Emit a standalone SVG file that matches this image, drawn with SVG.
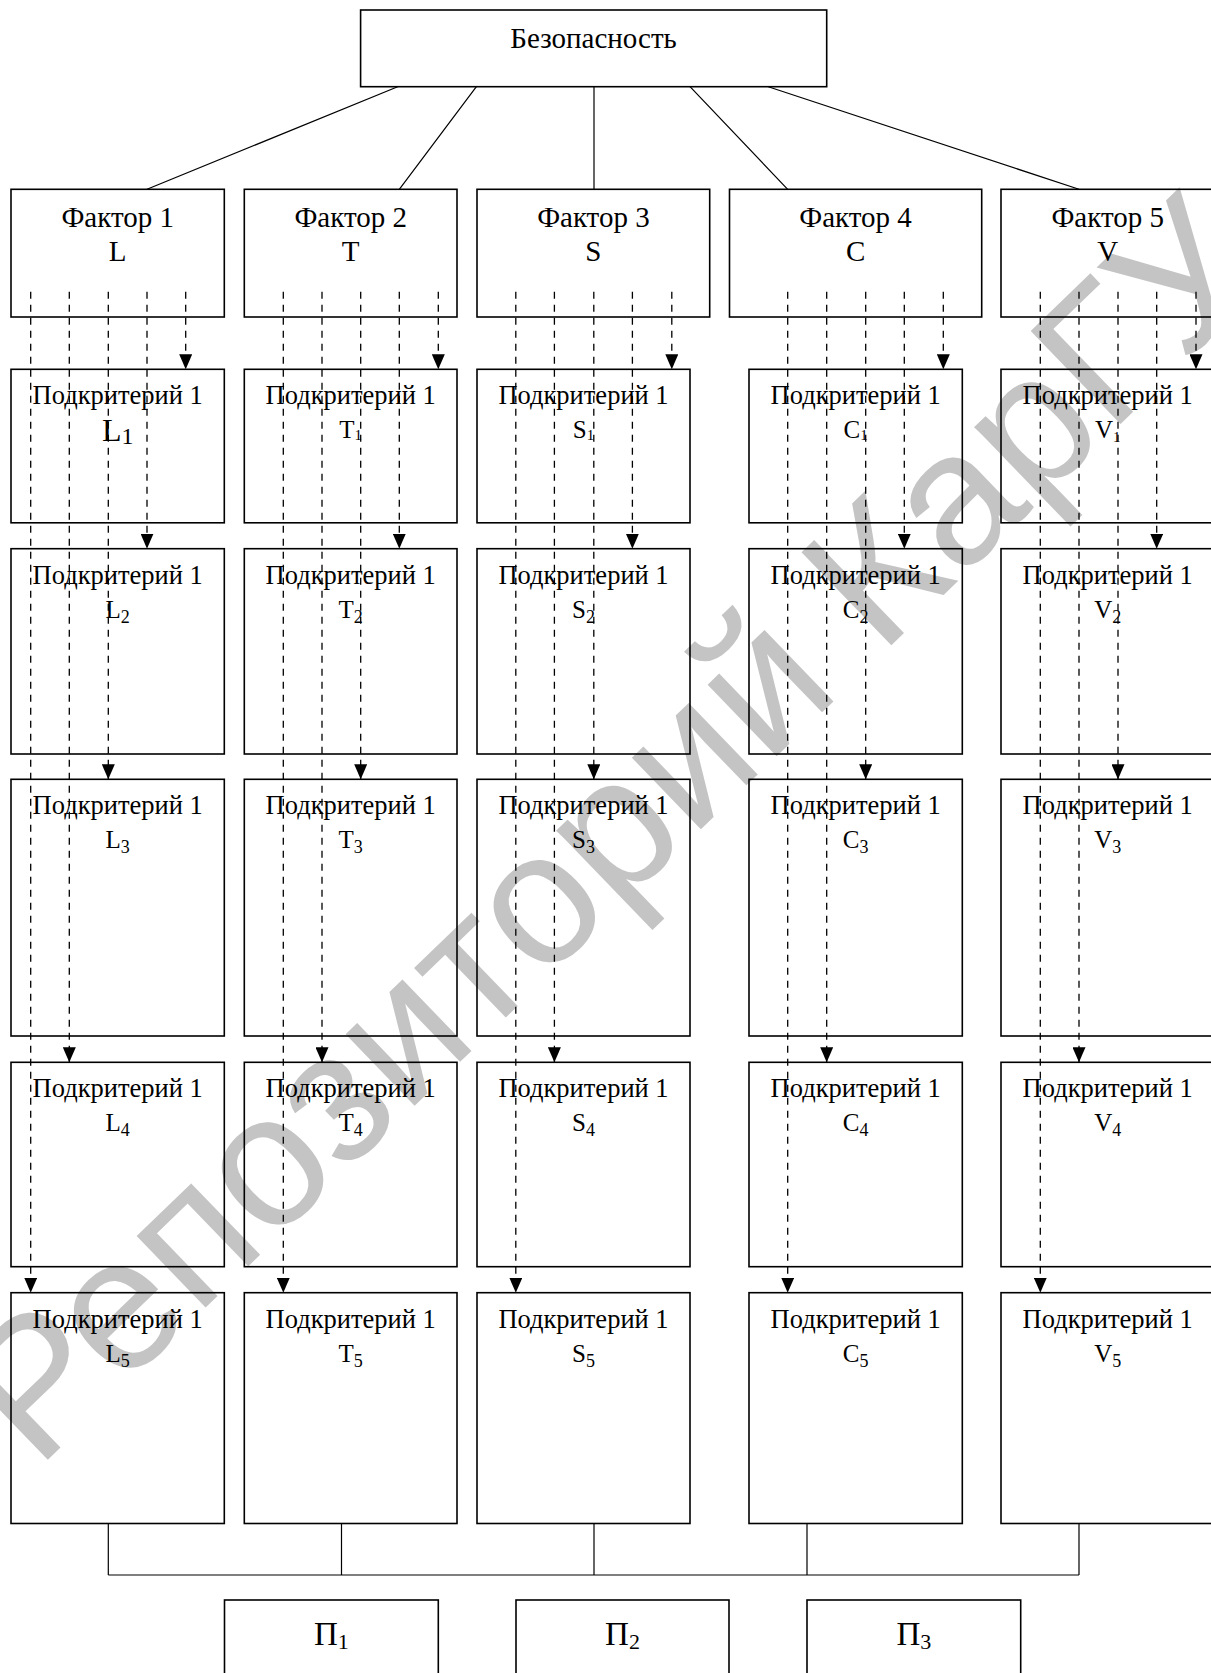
<svg xmlns="http://www.w3.org/2000/svg" width="1211" height="1673" viewBox="0 0 1211 1673">
<style>
.bg{fill:#fff}
.box{fill:none;stroke:#000;stroke-width:1.6}
.ln{fill:none;stroke:#000;stroke-width:1.2}
.dl{fill:none;stroke:#000;stroke-width:1.3;stroke-dasharray:7 6}
.t{font-family:"Liberation Serif","Times New Roman",serif;fill:#000;text-anchor:middle}
.f29{font-size:29px}
.f26{font-size:26.5px}
.f25{font-size:25px}
.f32{font-size:33px}
.wm{font-family:"Liberation Sans",Arial,sans-serif;font-size:188px;fill:#c4c4c4}
</style>
<defs>
<marker id="ah" viewBox="0 0 15 13" refX="15" refY="6.5" markerWidth="15" markerHeight="13" markerUnits="userSpaceOnUse" orient="auto">
<path d="M0,0 L15,6.5 L0,13 z" fill="#000"/>
</marker>
</defs>
<rect class="bg" x="0" y="0" width="1211" height="1673"/>
<text class="wm" transform="translate(36.8,1470.5) rotate(-44)">Репозиторий КарГУ</text>

<g id="top">
<rect class="box" x="360.6" y="10" width="466.1" height="76.7"/>
<text class="t f29" x="593.6" y="48.3">Безопасность</text>
</g>

<g id="factor1"><rect class="box" x="11" y="189.3" width="213.3" height="127.7"/><text class="t f29" x="117.7" y="226.7">Фактор 1</text><text class="t f29" x="117.7" y="261">L</text></g>
<g id="factor2"><rect class="box" x="244.3" y="189.3" width="212.7" height="127.7"/><text class="t f29" x="350.7" y="226.7">Фактор 2</text><text class="t f29" x="350.7" y="261">T</text></g>
<g id="factor3"><rect class="box" x="477" y="189.3" width="232.7" height="127.7"/><text class="t f29" x="593.4" y="226.7">Фактор 3</text><text class="t f29" x="593.4" y="261">S</text></g>
<g id="factor4"><rect class="box" x="729.5" y="189.3" width="252.2" height="127.7"/><text class="t f29" x="855.6" y="226.7">Фактор 4</text><text class="t f29" x="855.6" y="261">C</text></g>
<g id="factor5"><rect class="box" x="1001" y="189.3" width="215" height="127.7"/><text class="t f29" x="1107.7" y="226.7">Фактор 5</text><text class="t f29" x="1107.7" y="261">V</text></g>

<!-- row 1 -->
<g id="L1"><rect class="box" x="11" y="369.3" width="213.3" height="153.5"/><text class="t f26" x="117.7" y="404.3">Подкритерий 1</text><text class="t" x="117.7" y="441" font-size="32">L<tspan font-size="24" dy="3">1</tspan></text></g>
<g id="T1"><rect class="box" x="244.3" y="369.3" width="212.7" height="153.5"/><text class="t f26" x="350.7" y="404.3">Подкритерий 1</text><text class="t f25" x="350.7" y="438.3">T<tspan font-size="15" dy="2">1</tspan></text></g>
<g id="S1"><rect class="box" x="477" y="369.3" width="213" height="153.5"/><text class="t f26" x="583.5" y="404.3">Подкритерий 1</text><text class="t f25" x="583.5" y="438.3">S<tspan font-size="15" dy="2">1</tspan></text></g>
<g id="C1"><rect class="box" x="749" y="369.3" width="213.3" height="153.5"/><text class="t f26" x="855.7" y="404.3">Подкритерий 1</text><text class="t f25" x="855.7" y="438.3">C<tspan font-size="15" dy="2">1</tspan></text></g>
<g id="V1"><rect class="box" x="1001" y="369.3" width="215" height="153.5"/><text class="t f26" x="1107.7" y="404.3">Подкритерий 1</text><text class="t f25" x="1107.7" y="438.3">V<tspan font-size="15" dy="4">1</tspan></text></g>

<!-- row 2 -->
<g id="L2"><rect class="box" x="11" y="548.7" width="213.3" height="205.3"/><text class="t f26" x="117.7" y="583.7">Подкритерий 1</text><text class="t f25" x="117.7" y="617.7">L<tspan font-size="18" dy="5">2</tspan></text></g>
<g id="T2"><rect class="box" x="244.3" y="548.7" width="212.7" height="205.3"/><text class="t f26" x="350.7" y="583.7">Подкритерий 1</text><text class="t f25" x="350.7" y="617.7">T<tspan font-size="18" dy="5">2</tspan></text></g>
<g id="S2"><rect class="box" x="477" y="548.7" width="213" height="205.3"/><text class="t f26" x="583.5" y="583.7">Подкритерий 1</text><text class="t f25" x="583.5" y="617.7">S<tspan font-size="18" dy="5">2</tspan></text></g>
<g id="C2"><rect class="box" x="749" y="548.7" width="213.3" height="205.3"/><text class="t f26" x="855.7" y="583.7">Подкритерий 1</text><text class="t f25" x="855.7" y="617.7">C<tspan font-size="18" dy="5">2</tspan></text></g>
<g id="V2"><rect class="box" x="1001" y="548.7" width="215" height="205.3"/><text class="t f26" x="1107.7" y="583.7">Подкритерий 1</text><text class="t f25" x="1107.7" y="617.7">V<tspan font-size="18" dy="5">2</tspan></text></g>

<!-- row 3 -->
<g id="L3"><rect class="box" x="11" y="779.3" width="213.3" height="256.7"/><text class="t f26" x="117.7" y="814.3">Подкритерий 1</text><text class="t f25" x="117.7" y="848.3">L<tspan font-size="18" dy="5">3</tspan></text></g>
<g id="T3"><rect class="box" x="244.3" y="779.3" width="212.7" height="256.7"/><text class="t f26" x="350.7" y="814.3">Подкритерий 1</text><text class="t f25" x="350.7" y="848.3">T<tspan font-size="18" dy="5">3</tspan></text></g>
<g id="S3"><rect class="box" x="477" y="779.3" width="213" height="256.7"/><text class="t f26" x="583.5" y="814.3">Подкритерий 1</text><text class="t f25" x="583.5" y="848.3">S<tspan font-size="18" dy="5">3</tspan></text></g>
<g id="C3"><rect class="box" x="749" y="779.3" width="213.3" height="256.7"/><text class="t f26" x="855.7" y="814.3">Подкритерий 1</text><text class="t f25" x="855.7" y="848.3">C<tspan font-size="18" dy="5">3</tspan></text></g>
<g id="V3"><rect class="box" x="1001" y="779.3" width="215" height="256.7"/><text class="t f26" x="1107.7" y="814.3">Подкритерий 1</text><text class="t f25" x="1107.7" y="848.3">V<tspan font-size="18" dy="5">3</tspan></text></g>

<!-- row 4 -->
<g id="L4"><rect class="box" x="11" y="1062.3" width="213.3" height="204.4"/><text class="t f26" x="117.7" y="1097.3">Подкритерий 1</text><text class="t f25" x="117.7" y="1131.3">L<tspan font-size="18" dy="5">4</tspan></text></g>
<g id="T4"><rect class="box" x="244.3" y="1062.3" width="212.7" height="204.4"/><text class="t f26" x="350.7" y="1097.3">Подкритерий 1</text><text class="t f25" x="350.7" y="1131.3">T<tspan font-size="18" dy="5">4</tspan></text></g>
<g id="S4"><rect class="box" x="477" y="1062.3" width="213" height="204.4"/><text class="t f26" x="583.5" y="1097.3">Подкритерий 1</text><text class="t f25" x="583.5" y="1131.3">S<tspan font-size="18" dy="5">4</tspan></text></g>
<g id="C4"><rect class="box" x="749" y="1062.3" width="213.3" height="204.4"/><text class="t f26" x="855.7" y="1097.3">Подкритерий 1</text><text class="t f25" x="855.7" y="1131.3">C<tspan font-size="18" dy="5">4</tspan></text></g>
<g id="V4"><rect class="box" x="1001" y="1062.3" width="215" height="204.4"/><text class="t f26" x="1107.7" y="1097.3">Подкритерий 1</text><text class="t f25" x="1107.7" y="1131.3">V<tspan font-size="18" dy="5">4</tspan></text></g>

<!-- row 5 -->
<g id="L5"><rect class="box" x="11" y="1292.7" width="213.3" height="230.8"/><text class="t f26" x="117.7" y="1327.7">Подкритерий 1</text><text class="t f25" x="117.7" y="1361.7">L<tspan font-size="18" dy="5">5</tspan></text></g>
<g id="T5"><rect class="box" x="244.3" y="1292.7" width="212.7" height="230.8"/><text class="t f26" x="350.7" y="1327.7">Подкритерий 1</text><text class="t f25" x="350.7" y="1361.7">T<tspan font-size="18" dy="5">5</tspan></text></g>
<g id="S5"><rect class="box" x="477" y="1292.7" width="213" height="230.8"/><text class="t f26" x="583.5" y="1327.7">Подкритерий 1</text><text class="t f25" x="583.5" y="1361.7">S<tspan font-size="18" dy="5">5</tspan></text></g>
<g id="C5"><rect class="box" x="749" y="1292.7" width="213.3" height="230.8"/><text class="t f26" x="855.7" y="1327.7">Подкритерий 1</text><text class="t f25" x="855.7" y="1361.7">C<tspan font-size="18" dy="5">5</tspan></text></g>
<g id="V5"><rect class="box" x="1001" y="1292.7" width="215" height="230.8"/><text class="t f26" x="1107.7" y="1327.7">Подкритерий 1</text><text class="t f25" x="1107.7" y="1361.7">V<tspan font-size="18" dy="5">5</tspan></text></g>

<!-- results -->
<g id="P1"><rect class="box" x="224.5" y="1600" width="213.8" height="100"/><text class="t f32" x="331.3" y="1645">П<tspan font-size="22" dy="4">1</tspan></text></g>
<g id="P2"><rect class="box" x="516" y="1600" width="213" height="100"/><text class="t f32" x="622.5" y="1645">П<tspan font-size="22" dy="4">2</tspan></text></g>
<g id="P3"><rect class="box" x="807" y="1600" width="213.7" height="100"/><text class="t f32" x="913.8" y="1645">П<tspan font-size="22" dy="4">3</tspan></text></g>

<g id="connectors">
<path class="ln" d="M397.7,86.7 L147,189.3 M476.4,86.7 L399.3,189.3 M594,86.7 L594,189.3 M690,86.7 L787.7,189.3 M768.3,86.7 L1079,189.3"/>
<path class="ln" d="M108.3,1523.5 V1575 M341.5,1523.5 V1575 M594,1523.5 V1575 M807,1523.5 V1575 M1079,1523.5 V1575 M108.3,1575 H1079"/>
<g marker-end="url(#ah)">
<line class="dl" x1="30.7" y1="291.7" x2="30.7" y2="1292.7"/>
<line class="dl" x1="69.3" y1="291.7" x2="69.3" y2="1062.3"/>
<line class="dl" x1="108.3" y1="291.7" x2="108.3" y2="779.3"/>
<line class="dl" x1="147" y1="291.7" x2="147" y2="548.7"/>
<line class="dl" x1="185.7" y1="291.7" x2="185.7" y2="369.3"/>
<line class="dl" x1="283.3" y1="291.7" x2="283.3" y2="1292.7"/>
<line class="dl" x1="322" y1="291.7" x2="322" y2="1062.3"/>
<line class="dl" x1="360.7" y1="291.7" x2="360.7" y2="779.3"/>
<line class="dl" x1="399.3" y1="291.7" x2="399.3" y2="548.7"/>
<line class="dl" x1="438.3" y1="291.7" x2="438.3" y2="369.3"/>
<line class="dl" x1="515.8" y1="291.7" x2="515.8" y2="1292.7"/>
<line class="dl" x1="554.4" y1="291.7" x2="554.4" y2="1062.3"/>
<line class="dl" x1="593.8" y1="291.7" x2="593.8" y2="779.3"/>
<line class="dl" x1="632.4" y1="291.7" x2="632.4" y2="548.7"/>
<line class="dl" x1="671.8" y1="291.7" x2="671.8" y2="369.3"/>
<line class="dl" x1="787.7" y1="291.7" x2="787.7" y2="1292.7"/>
<line class="dl" x1="826.7" y1="291.7" x2="826.7" y2="1062.3"/>
<line class="dl" x1="865.7" y1="291.7" x2="865.7" y2="779.3"/>
<line class="dl" x1="904.3" y1="291.7" x2="904.3" y2="548.7"/>
<line class="dl" x1="943.3" y1="291.7" x2="943.3" y2="369.3"/>
<line class="dl" x1="1040.3" y1="291.7" x2="1040.3" y2="1292.7"/>
<line class="dl" x1="1079" y1="291.7" x2="1079" y2="1062.3"/>
<line class="dl" x1="1118" y1="291.7" x2="1118" y2="779.3"/>
<line class="dl" x1="1156.7" y1="291.7" x2="1156.7" y2="548.7"/>
<line class="dl" x1="1196" y1="291.7" x2="1196" y2="369.3"/>
</g>
</g>
</svg>
